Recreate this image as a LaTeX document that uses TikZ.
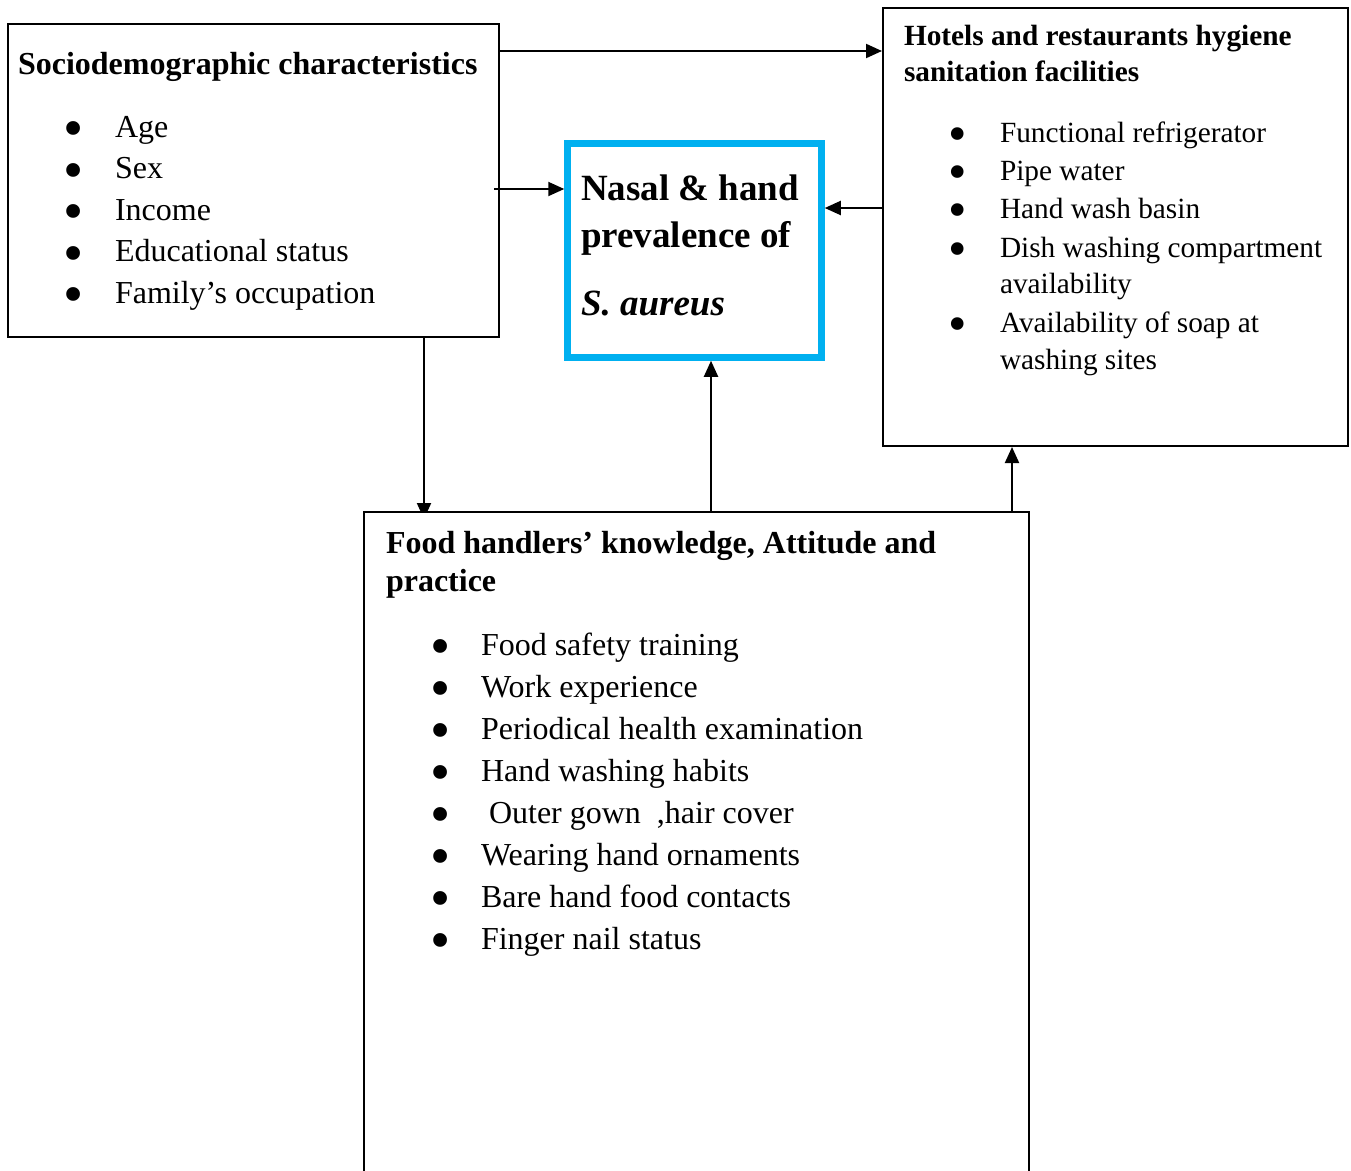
\documentclass[tikz,border=0pt]{standalone}
\usepackage{fontspec}
\setmainfont{Liberation Serif}
\usetikzlibrary{arrows.meta}
\pgfdeclarelayer{bg}
\pgfsetlayers{bg,main}
\definecolor{skyb}{HTML}{00B0F0}
\newcommand\blt[1]{\llap{\makebox[0pt]{\raisebox{-4pt}[0pt][0pt]{$\vcenter{\hbox{\scalebox{1.8}{\textbullet}}}$}}\hspace{#1pt}}}
\begin{document}
\begin{tikzpicture}[x=1pt,y=-1pt,
  box/.style={draw=black, line width=2pt, rectangle, inner sep=0pt, fill=white},
  nbox/.style={draw=skyb, line width=6.5pt, rectangle, inner sep=0pt, fill=white},
  txt/.style={anchor=base west, inner sep=0pt, outer sep=0pt},
  ttl/.style={txt, font=\fontsize{32}{38}\selectfont\bfseries},
  itm/.style={txt, font=\fontsize{32}{38}\selectfont},
  httl/.style={txt, font=\fontsize{29.3}{36}\selectfont\bfseries},
  hitm/.style={txt, font=\fontsize{29.3}{36}\selectfont},
  ntxt/.style={txt, font=\fontsize{37}{44}\selectfont\bfseries},
  arr/.style={line width=2pt, -{Triangle[length=16pt,width=14pt]}}]
\useasboundingbox (0,0) rectangle (1351,1170);
\clip (0,0) rectangle (1351,1170);
\begin{pgfonlayer}{bg}
\fill[white] (0,0) rectangle (1351,1170);
\end{pgfonlayer}

% boxes
\node[box, minimum width=491pt, minimum height=313pt] (A) at (253.5,180.5) {};
\node[nbox, minimum width=254pt, minimum height=214pt] (N) at (694.5,250.5) {};
\node[box, minimum width=465pt, minimum height=438pt] (H) at (1115.5,227) {};
\node[box, minimum width=665pt, minimum height=738pt] (F) at (696.5,881) {};

% sociodemographic
\node[ttl] (at) at (18,74) {Sociodemographic characteristics};
\node[itm] (a1) at (115,137) {\blt{41}Age};
\node[itm] (a2) at (115,178.5) {\blt{41}Sex};
\node[itm] (a3) at (115,220) {\blt{41}Income};
\node[itm] (a4) at (115,261.5) {\blt{41}Educational status};
\node[itm] (a5) at (115,303) {\blt{41}Family’s occupation};

% nasal
\node[ntxt] (n1) at (581,200) {Nasal \& hand};
\node[ntxt] (n2) at (581,247) {prevalence of};
\node[ntxt] (n3) at (581,315) {\textit{S. aureus}};

% hotels
\node[httl] (ht1) at (904,45) {Hotels and restaurants hygiene};
\node[httl] (ht2) at (904,81) {sanitation facilities};
\node[hitm] (h1) at (1000,142) {\blt{42}Functional refrigerator};
\node[hitm] (h2) at (1000,180) {\blt{42}Pipe water};
\node[hitm] (h3) at (1000,218) {\blt{42}Hand wash basin};
\node[hitm] (h4) at (1000,257) {\blt{42}Dish washing compartment};
\node[hitm] (h4b) at (1000,293) {availability};
\node[hitm] (h5) at (1000,332) {\blt{42}Availability of soap at};
\node[hitm] (h5b) at (1000,369) {washing sites};

% food handlers
\node[ttl] (ft1) at (386,553) {Food handlers’ knowledge, Attitude and};
\node[ttl] (ft2) at (386,591) {practice};
\node[itm] (f1) at (481,655) {\blt{40}Food safety training};
\node[itm] (f2) at (481,697) {\blt{40}Work experience};
\node[itm] (f3) at (481,739) {\blt{40}Periodical health examination};
\node[itm] (f4) at (481,781) {\blt{40}Hand washing habits};
\node[itm] (f5) at (481,823) {\blt{40}\hspace{8pt}Outer gown\ \ ,hair cover};
\node[itm] (f6) at (481,865) {\blt{40}Wearing hand ornaments};
\node[itm] (f7) at (481,907) {\blt{40}Bare hand food contacts};
\node[itm] (f8) at (481,949) {\blt{40}Finger nail status};

% connector reference coordinates
\coordinate (y51) at (0,51);
\coordinate (y189) at (0,189);
\coordinate (y208) at (0,208);
\coordinate (x424) at (424,0);
\coordinate (x711) at (711,0);
\coordinate (x1012) at (1012,0);

% connectors
\draw[arr] (A.east |- y51) -- (H.west |- y51);
\draw[arr, shorten <=-6pt] (A.east |- y189) -- (N.west |- y189);
\draw[arr] (H.west |- y208) -- (N.east |- y208);
\begin{pgfonlayer}{bg}
\draw[arr, shorten >=-8pt] (x424 |- A.south) -- (x424 |- F.north);
\end{pgfonlayer}
\draw[arr] (x711 |- F.north) -- (x711 |- N.south);
\draw[arr] (x1012 |- F.north) -- (x1012 |- H.south);
\end{tikzpicture}
\end{document}
